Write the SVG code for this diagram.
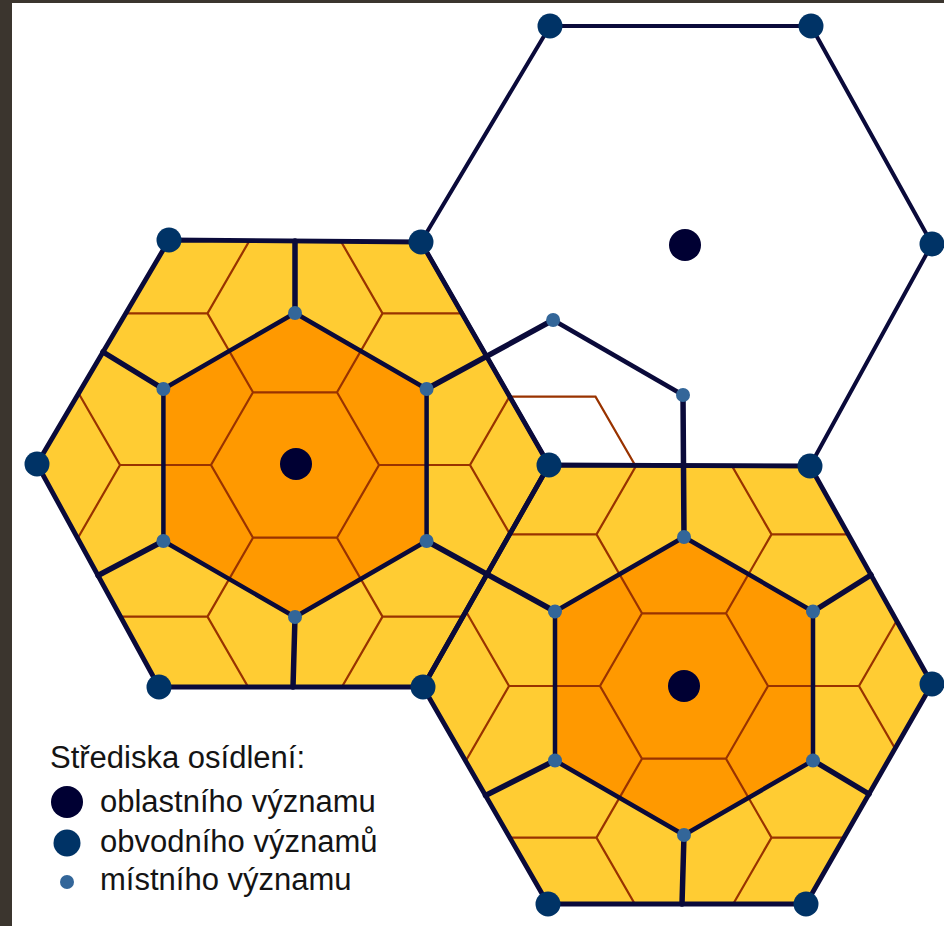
<svg xmlns="http://www.w3.org/2000/svg" width="944" height="926" viewBox="0 0 944 926">
<defs>
<style>
.yel{fill:#FFCC33}
.org{fill:#FF9900}
.brown{fill:none;stroke:#993300;stroke-width:2.2}
.thick{fill:none;stroke:#0A0A3A;stroke-width:5.5;stroke-linecap:round;stroke-linejoin:round}
.inner{fill:none;stroke:#0A0A3A;stroke-width:4.5;stroke-linejoin:round}
.edge{fill:none;stroke:#0A0A3A;stroke-width:4.8;stroke-linejoin:round}
.edge2{fill:none;stroke:#0A0A3A;stroke-width:4;stroke-linejoin:round}
.big{fill:#000033}
.mid{fill:#003366}
.sm{fill:#336699}
.lbl{font-family:"Liberation Sans",Arial,sans-serif;font-size:31px;fill:#141414}
</style>
<clipPath id="clipL"><polygon points="169,240 421,242 549,465 423,687 159,687 37,464"/></clipPath>
<clipPath id="clipR"><polygon points="549,465 810,466 932,684 806,904 548,904 423,687"/></clipPath>
<clipPath id="clipT"><polygon points="421,242 550,26 811,26 932,244 810,466 549,465"/></clipPath>
<path id="lattice" class="brown" d="M84,0 L42,-72.7 L-42,-72.7 L-84,0 L-42,72.7 L42,72.7 Z M84,0 L175,0 M42,-72.7 L87.5,-151.6 M-42,-72.7 L-87.5,-151.6 M-84,0 L-175,0 M-42,72.7 L-87.5,151.6 M42,72.7 L87.5,151.6 M230,-95.3 L175,0 L230,95.3 M32.5,-246.9 L87.5,-151.6 L197.5,-151.6 M-32.5,-246.9 L-87.5,-151.6 L-197.5,-151.6 M-230,-95.3 L-175,0 L-230,95.3 M-197.5,151.6 L-87.5,151.6 L-32.5,246.9 M197.5,151.6 L87.5,151.6 L32.5,246.9"/>
</defs>
<rect width="944" height="926" fill="#FFFFFF"/>
<rect x="0" y="0" width="944" height="3" fill="#3B352E"/>
<rect x="0" y="0" width="12" height="926" fill="#3B352E"/>

<g id="hex-left">
<polygon class="yel" points="169,240 421,242 549,465 423,687 159,687 37,464"/>
<polygon class="org" points="295,313 426.6,389 426.6,541 295,617 163.4,541 163.4,389"/>
<g clip-path="url(#clipL)"><use href="#lattice" transform="translate(295,465)"/></g>
<polygon class="inner" points="295,313 426.6,389 426.6,541 295,617 163.4,541 163.4,389"/>
</g>

<g id="hex-right">
<polygon class="yel" points="549,465 810,466 932,684 806,904 548,904 423,687"/>
<polygon class="org" points="684,537 813,611.5 813,760.5 684,835 555,760.5 555,611.5"/>
<g clip-path="url(#clipR)"><use href="#lattice" transform="translate(684,686)"/></g>
<polygon class="inner" points="684,537 813,611.5 813,760.5 684,835 555,760.5 555,611.5"/>
</g>

<g id="hex-top">
<g clip-path="url(#clipT)"><path class="brown" d="M485.5,396.6 L595.5,396.6 L650.5,491.9"/></g>
<path class="inner" d="M553.1,320 L683,395"/>
</g>

<g id="connectors">
<g class="thick">
<path d="M295,313 L295,241"/>
<path d="M426.6,389 L553.1,320"/>
<path d="M426.6,541 L555,611.5"/>
<path d="M295,617 L293,687"/>
<path d="M163.4,541 L98,575.5"/>
<path d="M163.4,389 L103,352"/>
<path d="M683,395 L684,537"/>
<path d="M813,611.5 L871,575"/>
<path d="M813,760.5 L869,794"/>
<path d="M684,835 L682,904"/>
<path d="M555,760.5 L485.5,795.5"/>
</g>
<polygon class="edge2" points="421,242 550,26 811,26 932,244 810,466 549,465"/>
<polygon class="edge" points="169,240 421,242 549,465 423,687 159,687 37,464"/>
<polygon class="edge" points="549,465 810,466 932,684 806,904 548,904 423,687"/>
</g>

<g id="centers">
<circle class="big" cx="296" cy="464" r="16"/>
<circle class="big" cx="685" cy="245" r="16"/>
<circle class="big" cx="684" cy="686" r="16"/>
</g>
<g id="district-centers" class="mid">
<circle cx="169" cy="240" r="12.5"/>
<circle cx="421" cy="242" r="12.5"/>
<circle cx="549" cy="465" r="12.5"/>
<circle cx="423" cy="687" r="12.5"/>
<circle cx="159" cy="687" r="12.5"/>
<circle cx="37" cy="464" r="12.5"/>
<circle cx="550" cy="26" r="12.5"/>
<circle cx="811" cy="26" r="12.5"/>
<circle cx="932" cy="244" r="12.5"/>
<circle cx="810" cy="466" r="12.5"/>
<circle cx="932" cy="684" r="12.5"/>
<circle cx="806" cy="904" r="12.5"/>
<circle cx="548" cy="904" r="12.5"/>
</g>
<g id="local-centers" class="sm">
<circle cx="295" cy="313" r="7"/>
<circle cx="426.6" cy="389" r="7"/>
<circle cx="426.6" cy="541" r="7"/>
<circle cx="295" cy="617" r="7"/>
<circle cx="163.4" cy="541" r="7"/>
<circle cx="163.4" cy="389" r="7"/>
<circle cx="684" cy="537" r="7"/>
<circle cx="813" cy="611.5" r="7"/>
<circle cx="813" cy="760.5" r="7"/>
<circle cx="684" cy="835" r="7"/>
<circle cx="555" cy="760.5" r="7"/>
<circle cx="555" cy="611.5" r="7"/>
<circle cx="553.1" cy="320" r="7"/>
<circle cx="683" cy="395" r="7"/>
</g>

<g id="legend">
<text class="lbl" x="50" y="768">Střediska osídlení:</text>
<circle class="big" cx="67" cy="802" r="16"/>
<text class="lbl" x="100" y="812">oblastního významu</text>
<circle class="mid" cx="67" cy="843" r="13.5"/>
<text class="lbl" x="100" y="852">obvodního významů</text>
<circle class="sm" cx="67" cy="882" r="7"/>
<text class="lbl" x="100" y="890">místního významu</text>
</g>
</svg>
